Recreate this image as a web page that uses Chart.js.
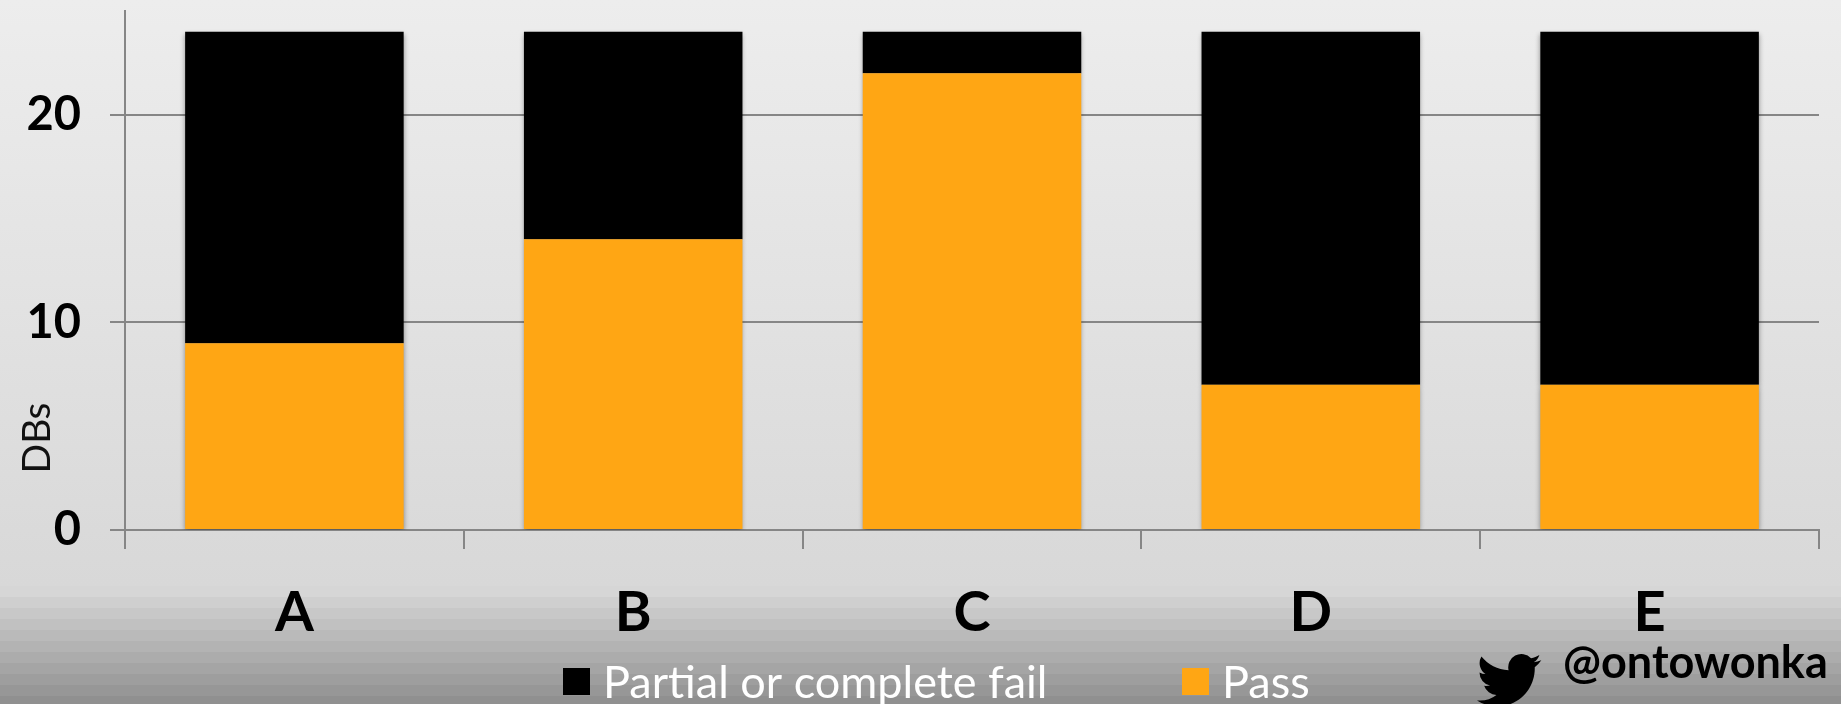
<!DOCTYPE html>
<html>
<head>
<meta charset="utf-8">
<title>DBs</title>
<style>
  html, body { margin: 0; padding: 0; background: #d9d9d9; overflow: hidden; }
  canvas { display: block; }
</style>
</head>
<body>
<canvas id="dbChart" width="1841" height="704"></canvas>
<script src="https://cdn.jsdelivr.net/npm/chart.js@4/dist/chart.umd.min.js"></script>
<script>
const categories = ['A', 'B', 'C', 'D', 'E'];
const passValues = [9, 14, 22, 7, 7];
const failValues = [15, 10, 2, 17, 17];

const ORANGE = '#ffa614';
const AXIS_GREY = '#868686';
const BIRD_PATH = 'M23.953 4.57a10 10 0 01-2.825.775 4.958 4.958 0 002.163-2.723c-.951.555-2.005.959-3.127 1.184a4.92 4.92 0 00-8.384 4.482C7.69 8.095 4.067 6.13 1.64 3.162a4.822 4.822 0 00-.666 2.475c0 1.71.87 3.213 2.188 4.096a4.904 4.904 0 01-2.228-.616v.06a4.923 4.923 0 003.946 4.827 4.996 4.996 0 01-2.212.085 4.936 4.936 0 004.604 3.417 9.867 9.867 0 01-6.102 2.105c-.39 0-.779-.023-1.17-.067a13.995 13.995 0 007.557 2.209c9.053 0 13.998-7.496 13.998-13.985 0-.21 0-.42-.015-.63A9.935 9.935 0 0024 4.59z';

// slide background: soft fade, then stepped bands towards the bottom edge
const slideBackground = {
  id: 'slideBackground',
  beforeDraw(chart) {
    const { ctx, width, height } = chart;
    const fade = ctx.createLinearGradient(0, 0, 0, 586);
    fade.addColorStop(0, '#ededed');
    fade.addColorStop(1, '#d8d8d8');
    ctx.save();
    ctx.fillStyle = fade;
    ctx.fillRect(0, 0, width, 586);
    for (let i = 0; i < 11; i += 1) {
      const level = 214 - i * 7;
      ctx.fillStyle = `rgb(${level},${level},${level})`;
      ctx.fillRect(0, 586 + i * 11, width, 11);
    }
    ctx.restore();
  }
};

// soft shadow round the bar stacks
const barShadow = {
  id: 'barShadow',
  beforeDatasetsDraw(chart) {
    const { ctx } = chart;
    ctx.save();
    ctx.shadowColor = 'rgba(0,0,0,0.4)';
    ctx.shadowBlur = 5;
    ctx.shadowOffsetY = 2;
  },
  afterDatasetsDraw(chart) {
    chart.ctx.restore();
  }
};

// axis caption, legend row, handle and bird
const slideLabels = {
  id: 'slideLabels',
  afterDraw(chart) {
    const { ctx } = chart;
    ctx.save();
    ctx.fillStyle = '#000';

    ctx.save();
    ctx.translate(37, 438);
    ctx.rotate(-Math.PI / 2);
    ctx.font = '39px Lato';
    ctx.textAlign = 'center';
    ctx.textBaseline = 'middle';
    ctx.fillStyle = '#111';
    ctx.fillText('DBs', 0, 0);
    ctx.restore();

    // legend: fail first, then pass
    const legendX = [563, 1182];
    [...chart.data.datasets].reverse().forEach((dataset, i) => {
      ctx.fillStyle = dataset.backgroundColor;
      ctx.fillRect(legendX[i], 668, 27, 27);
      ctx.fillStyle = '#ffffff';
      ctx.font = '45px Lato';
      ctx.textAlign = 'left';
      ctx.textBaseline = 'alphabetic';
      ctx.fillText(dataset.label, legendX[i] + 40, 698);
    });

    ctx.fillStyle = '#000';
    ctx.font = 'bold 45px Lato';
    ctx.fillText('@ontowonka', 1563, 678);

    ctx.translate(1477, 648);
    ctx.scale(2.68, 2.68);
    ctx.fill(new Path2D(BIRD_PATH));
    ctx.restore();
  }
};

new Chart(document.getElementById('dbChart'), {
  type: 'bar',
  data: {
    labels: categories,
    datasets: [
      { label: 'Pass', data: passValues, backgroundColor: ORANGE },
      { label: 'Partial or complete fail', data: failValues, backgroundColor: '#000000' }
    ]
  },
  options: {
    responsive: false,
    animation: false,
    layout: { padding: { top: 11, right: 22 } },
    datasets: { bar: { categoryPercentage: 1, barPercentage: 0.645 } },
    plugins: {
      tooltip: { enabled: false },
      legend: { display: false }
    },
    scales: {
      x: {
        stacked: true,
        afterFit: (scale) => {
          scale.height = 174;
          scale.paddingLeft = 0;
          scale.paddingRight = 0;
        },
        border: { color: AXIS_GREY, width: 2 },
        grid: { color: AXIS_GREY, lineWidth: 2, drawOnChartArea: false, tickLength: 19 },
        ticks: { color: '#000', padding: 30, font: { family: 'Lato', weight: 'bold', size: 56 } }
      },
      y: {
        stacked: true,
        min: 0,
        max: 25,
        afterFit: (scale) => {
          scale.width = 125;
          scale.paddingTop = 0;
          scale.paddingBottom = 0;
        },
        border: { color: AXIS_GREY, width: 2 },
        grid: { color: AXIS_GREY, lineWidth: 2, tickLength: 15 },
        ticks: {
          stepSize: 10,
          includeBounds: false,
          color: '#000',
          padding: 29,
          font: { family: 'Lato', weight: 'bold', size: 47 }
        }
      }
    }
  },
  plugins: [slideBackground, barShadow, slideLabels]
});
</script>
</body>
</html>
